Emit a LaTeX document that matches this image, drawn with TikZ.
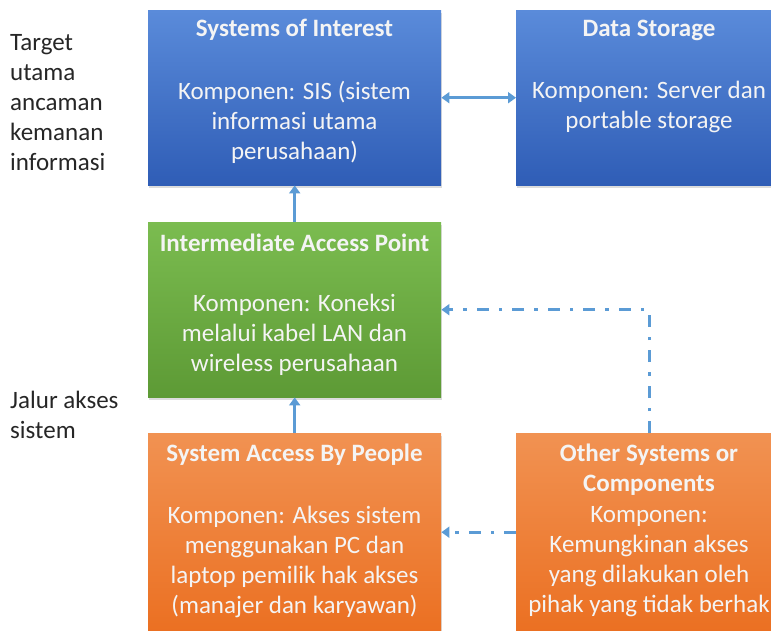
\documentclass[tikz,border=0pt]{standalone}
\usepackage{fontspec}
\setmainfont{Carlito}
\usetikzlibrary{arrows.meta,shadows}
\definecolor{blueTop}{HTML}{5A8BDA}
\definecolor{blueBot}{HTML}{2F5DB6}
\definecolor{greenTop}{HTML}{7BBC50}
\definecolor{greenBot}{HTML}{5D9A35}
\definecolor{orangeTop}{HTML}{F19252}
\definecolor{orangeBot}{HTML}{EB7022}
\definecolor{linkBlue}{HTML}{5B9BD5}
\definecolor{labelInk}{HTML}{262626}
\definecolor{boxText}{HTML}{F4F4F4}
\tikzset{
  box/.style={rectangle, draw=none, anchor=north west, inner sep=0pt,
    drop shadow={opacity=0.28, shadow xshift=1pt, shadow yshift=-2.5pt}},
  bluebox/.style={box, top color=blueTop, bottom color=blueBot},
  greenbox/.style={box, top color=greenTop, bottom color=greenBot},
  orangebox/.style={box, top color=orangeTop, bottom color=orangeBot},
  txt/.style={inner sep=0pt, align=center, text=boxText,
    font=\fontsize{25}{30}\selectfont},
  ttl/.style={txt, font=\fontsize{25}{30}\selectfont\bfseries},
  side/.style={inner sep=0pt, align=left, anchor=west, text=labelInk,
    font=\fontsize{25}{30}\selectfont},
  tip/.tip={Triangle[width=11pt,length=8pt]},
  link/.style={draw=linkBlue, line width=3.2pt, arrows={-tip}},
  linkboth/.style={link, arrows={tip-tip}},
  dashlink/.style={link, dash pattern=on 12pt off 10pt on 3.5pt off 10pt}
}
\begin{document}
\begin{tikzpicture}[x=1pt, y=-1pt]
\useasboundingbox (0,0) rectangle (771,630);
\clip (0,0) rectangle (771,630);

% boxes
\node[bluebox, minimum width=293pt, minimum height=175pt] (soi) at (148,10) {};
\node[bluebox, minimum width=266pt, minimum height=175pt] (ds) at (516,10) {};
\node[greenbox, minimum width=293pt, minimum height=175pt] (iap) at (148,222) {};
\node[orangebox, minimum width=293pt, minimum height=198pt] (sap) at (148,433) {};
\node[orangebox, minimum width=266pt, minimum height=198pt] (osc) at (516,433) {};

% box texts
\node[ttl] (soiT) at (294.5,30) {Systems of Interest};
\node[txt] (soiB) at (294.5,122) {Komponen: SIS (sistem\\informasi utama\\perusahaan)};
\node[ttl] (dsT) at (649,30) {Data Storage};
\node[txt] (dsB) at (649,107) {Komponen: Server dan\\portable storage};
\node[ttl] (iapT) at (294.5,243) {Intermediate Access Point};
\node[txt] (iapB) at (294.5,335) {Komponen: Koneksi\\melalui kabel LAN dan\\wireless perusahaan};
\node[ttl] (sapT) at (294.5,455) {System Access By People};
\node[txt] (sapB) at (294.5,562) {Komponen: Akses sistem\\menggunakan PC dan\\laptop pemilik hak akses\\(manajer dan karyawan)};
\node[ttl] (oscT) at (649,470) {Other Systems or\\Components};
\node[txt] (oscB) at (649,562) {Komponen:\\Kemungkinan akses\\yang dilakukan oleh\\pihak yang tidak berhak};

% side labels
\node[side] (tgt) at (10,103) {Target\\utama\\ancaman\\kemanan\\informasi};
\node[side] (jal) at (10,415) {Jalur akses\\sistem};

% connectors
\draw[linkboth] (soi.east) -- (ds.west);
\draw[link] (iap.north) -- (soi.south);
\draw[link] (sap.north) -- (iap.south);
\draw[dashlink] (osc.north) |- (iap.east);
\draw[dashlink] (osc.west) -- (sap.east);
\end{tikzpicture}
\end{document}
